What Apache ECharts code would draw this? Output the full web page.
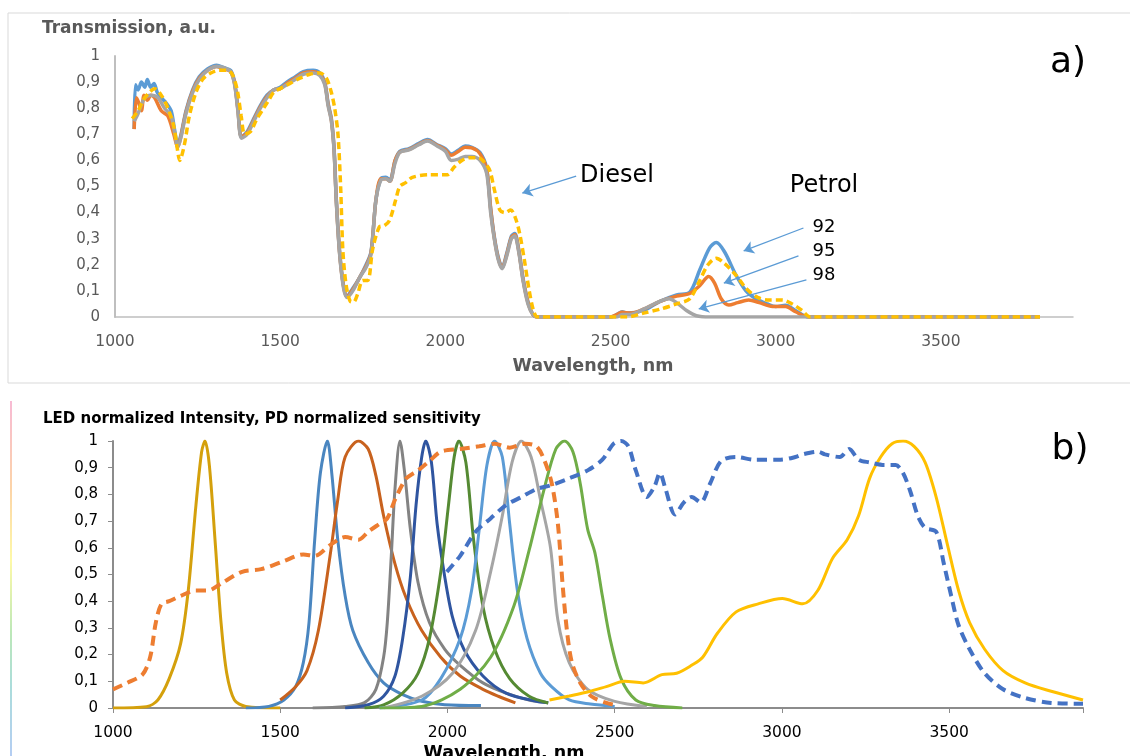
<!DOCTYPE html>
<html>
<head>
<meta charset="utf-8">
<script src="https://cdn.jsdelivr.net/npm/echarts@6/dist/echarts.min.js"></script>
<style>
  html, body { margin: 0; padding: 0; background: #fff; }
  #chart { width: 1130px; height: 756px; }
</style>
</head>
<body>
<div id="chart"></div>
<script>
// panel a) transmission spectra, [wavelength nm, transmission]
const trans92 = [[1058,0.72],[1062,0.89],[1070,0.87],[1080,0.90],[1090,0.88],[1098,0.91],[1108,0.88],[1118,0.895],[1128,0.86],[1140,0.84],[1155,0.82],[1170,0.79],[1180,0.72],[1190,0.66],[1200,0.70],[1215,0.79],[1235,0.87],[1255,0.92],[1280,0.95],[1308,0.965],[1330,0.955],[1350,0.945],[1362,0.9],[1372,0.8],[1383,0.69],[1400,0.71],[1420,0.76],[1440,0.81],[1460,0.85],[1480,0.87],[1500,0.88],[1520,0.9],[1545,0.92],[1570,0.94],[1600,0.945],[1620,0.935],[1635,0.9],[1645,0.82],[1655,0.76],[1663,0.65],[1670,0.45],[1680,0.25],[1692,0.12],[1702,0.08],[1720,0.11],[1740,0.15],[1760,0.2],[1775,0.25],[1790,0.45],[1805,0.53],[1820,0.535],[1832,0.525],[1848,0.6],[1862,0.635],[1890,0.645],[1920,0.665],[1946,0.68],[1975,0.66],[2000,0.645],[2018,0.625],[2040,0.64],[2060,0.655],[2080,0.65],[2105,0.63],[2125,0.57],[2137,0.42],[2148,0.31],[2160,0.23],[2172,0.19],[2185,0.24],[2200,0.31],[2210,0.32],[2222,0.26],[2235,0.15],[2250,0.06],[2265,0.01],[2280,0],[2500,0],[2520,0.01],[2535,0.02],[2550,0.015],[2600,0.025],[2650,0.06],[2700,0.085],[2740,0.095],[2770,0.18],[2800,0.265],[2820,0.285],[2845,0.25],[2880,0.16],[2910,0.1],[2940,0.07],[2975,0.05],[3000,0.04],[3030,0.045],[3060,0.025],[3100,0],[3800,0]];
const trans98 = [[1058,0.72],[1065,0.84],[1072,0.82],[1080,0.79],[1088,0.85],[1098,0.83],[1108,0.85],[1120,0.84],[1140,0.79],[1160,0.77],[1178,0.7],[1190,0.65],[1200,0.695],[1215,0.785],[1235,0.865],[1255,0.915],[1280,0.945],[1308,0.96],[1330,0.95],[1350,0.94],[1362,0.895],[1372,0.795],[1383,0.69],[1400,0.705],[1420,0.755],[1440,0.805],[1460,0.845],[1480,0.87],[1500,0.875],[1520,0.895],[1545,0.915],[1570,0.935],[1600,0.94],[1620,0.93],[1635,0.895],[1645,0.815],[1655,0.755],[1663,0.645],[1670,0.445],[1680,0.245],[1692,0.115],[1702,0.078],[1720,0.105],[1740,0.15],[1760,0.195],[1775,0.245],[1790,0.45],[1805,0.53],[1820,0.53],[1832,0.52],[1848,0.6],[1862,0.632],[1890,0.642],[1920,0.662],[1946,0.676],[1975,0.658],[2000,0.64],[2018,0.62],[2040,0.635],[2060,0.65],[2080,0.648],[2105,0.625],[2125,0.565],[2137,0.415],[2148,0.305],[2160,0.225],[2172,0.188],[2185,0.235],[2200,0.305],[2210,0.315],[2222,0.255],[2235,0.145],[2250,0.055],[2265,0.01],[2280,0],[2500,0],[2520,0.01],[2535,0.018],[2560,0.015],[2600,0.03],[2650,0.06],[2700,0.08],[2740,0.09],[2770,0.12],[2797,0.155],[2815,0.13],[2835,0.07],[2858,0.046],[2885,0.055],[2918,0.065],[2950,0.055],[2990,0.04],[3030,0.04],[3060,0.02],[3100,0],[3800,0]];
const transGray = [[1058,0.75],[1070,0.78],[1090,0.84],[1110,0.85],[1130,0.84],[1150,0.8],[1170,0.77],[1180,0.71],[1190,0.65],[1200,0.69],[1215,0.78],[1235,0.86],[1255,0.91],[1280,0.945],[1308,0.96],[1330,0.955],[1350,0.94],[1362,0.89],[1372,0.79],[1383,0.685],[1400,0.70],[1420,0.75],[1440,0.8],[1460,0.84],[1480,0.87],[1500,0.875],[1520,0.89],[1545,0.91],[1570,0.93],[1600,0.935],[1620,0.925],[1635,0.89],[1645,0.81],[1655,0.75],[1663,0.64],[1670,0.44],[1680,0.24],[1692,0.11],[1702,0.075],[1720,0.1],[1740,0.15],[1760,0.19],[1775,0.24],[1790,0.45],[1805,0.525],[1820,0.53],[1832,0.52],[1848,0.59],[1862,0.63],[1890,0.64],[1920,0.66],[1946,0.674],[1975,0.655],[2000,0.635],[2018,0.6],[2040,0.605],[2060,0.615],[2080,0.615],[2105,0.6],[2125,0.55],[2137,0.4],[2148,0.3],[2160,0.22],[2172,0.185],[2185,0.23],[2200,0.3],[2210,0.31],[2222,0.25],[2235,0.14],[2250,0.05],[2265,0.01],[2280,0],[2520,0],[2535,0.01],[2560,0.01],[2600,0.03],[2640,0.055],[2677,0.07],[2700,0.055],[2730,0.025],[2760,0.005],[2800,0],[3800,0]];
const transDiesel = [[1052,0.76],[1070,0.79],[1085,0.83],[1100,0.855],[1120,0.875],[1140,0.85],[1160,0.80],[1178,0.73],[1188,0.65],[1196,0.60],[1210,0.66],[1225,0.77],[1245,0.86],[1265,0.91],[1290,0.935],[1315,0.945],[1338,0.945],[1355,0.93],[1370,0.87],[1382,0.77],[1393,0.70],[1410,0.71],[1430,0.76],[1450,0.8],[1465,0.83],[1480,0.86],[1500,0.875],[1530,0.895],[1560,0.915],[1590,0.93],[1620,0.935],[1640,0.915],[1655,0.86],[1665,0.8],[1675,0.7],[1683,0.5],[1690,0.25],[1700,0.12],[1712,0.06],[1722,0.057],[1735,0.09],[1750,0.14],[1765,0.14],[1780,0.26],[1800,0.345],[1815,0.35],[1831,0.37],[1850,0.45],[1862,0.5],[1880,0.515],[1900,0.535],[1950,0.545],[2006,0.545],[2027,0.575],[2050,0.6],[2073,0.61],[2100,0.61],[2120,0.59],[2135,0.56],[2148,0.49],[2165,0.41],[2180,0.4],[2198,0.41],[2212,0.38],[2225,0.32],[2239,0.22],[2254,0.1],[2268,0.02],[2280,0],[2550,0],[2600,0.015],[2650,0.03],[2700,0.05],[2740,0.07],[2770,0.14],[2795,0.2],[2820,0.225],[2845,0.205],[2880,0.16],[2910,0.11],[2945,0.075],[2980,0.065],[3020,0.065],[3050,0.05],[3080,0.025],[3105,0],[3800,0]];

// panel b) LED spectra and photodiode sensitivities, [wavelength nm, normalized]
const led1275 = [[1000,0],[1100,0.005],[1134,0.03],[1168,0.11],[1202,0.24],[1225,0.44],[1248,0.76],[1265,0.96],[1275,1],[1288,0.91],[1305,0.63],[1323,0.32],[1340,0.13],[1363,0.03],[1397,0.006],[1500,0]];
const led1650 = [[1397,0],[1466,0.006],[1511,0.03],[1546,0.08],[1569,0.17],[1586,0.32],[1603,0.63],[1620,0.88],[1641,1],[1654,0.88],[1672,0.63],[1694,0.42],[1717,0.29],[1763,0.17],[1809,0.094],[1866,0.05],[1923,0.025],[1992,0.0125],[2100,0.009]];
const led1735 = [[1500,0.03],[1546,0.08],[1580,0.14],[1614,0.29],[1649,0.57],[1672,0.78],[1694,0.94],[1734,1],[1763,0.97],[1786,0.87],[1809,0.72],[1843,0.54],[1877,0.41],[1923,0.29],[1980,0.19],[2038,0.12],[2106,0.07],[2152,0.044],[2203,0.019]];
const led1860 = [[1597,0],[1694,0.006],[1752,0.02],[1786,0.07],[1809,0.19],[1820,0.32],[1832,0.57],[1843,0.82],[1858,1],[1872,0.88],[1889,0.67],[1912,0.47],[1946,0.32],[1992,0.22],[2038,0.16],[2106,0.094],[2175,0.056],[2244,0.03],[2301,0.02]];
const led1935 = [[1694,0],[1763,0.012],[1809,0.044],[1843,0.12],[1866,0.26],[1889,0.49],[1906,0.76],[1923,0.94],[1935,1],[1952,0.92],[1969,0.69],[1992,0.49],[2015,0.34],[2049,0.22],[2106,0.12],[2175,0.056],[2266,0.025],[2301,0.02]];
const led2035 = [[1752,0],[1809,0.012],[1866,0.056],[1912,0.13],[1946,0.26],[1980,0.51],[2003,0.76],[2020,0.94],[2034,1],[2055,0.92],[2078,0.63],[2106,0.38],[2141,0.22],[2186,0.11],[2244,0.044],[2301,0.019]];
const led2140 = [[1797,0],[1923,0.03],[1980,0.11],[2038,0.26],[2072,0.44],[2095,0.67],[2118,0.91],[2141,1],[2164,0.94],[2186,0.69],[2209,0.44],[2238,0.26],[2278,0.13],[2311,0.08],[2364,0.03],[2427,0.015],[2500,0.006]];
const led2220 = [[1809,0],[1923,0.044],[2015,0.13],[2084,0.29],[2129,0.51],[2164,0.72],[2193,0.92],[2221,1],[2250,0.94],[2278,0.78],[2308,0.6],[2330,0.33],[2364,0.17],[2419,0.07],[2500,0.025],[2596,0.006]];
const led2350 = [[1797,0],[1923,0.006],[2038,0.07],[2129,0.19],[2198,0.38],[2244,0.59],[2289,0.82],[2324,0.97],[2350,1],[2375,0.96],[2397,0.84],[2419,0.67],[2441,0.58],[2463,0.42],[2486,0.26],[2519,0.11],[2563,0.03],[2619,0.009],[2702,0]];
const led3360 = [[2305,0.03],[2364,0.045],[2419,0.06],[2475,0.08],[2530,0.1],[2585,0.094],[2641,0.125],[2685,0.13],[2730,0.16],[2763,0.19],[2807,0.28],[2863,0.36],[2929,0.39],[3001,0.41],[3062,0.39],[3107,0.44],[3151,0.56],[3195,0.63],[3229,0.72],[3262,0.86],[3295,0.94],[3329,0.99],[3362,1],[3395,0.98],[3428,0.92],[3461,0.79],[3495,0.61],[3528,0.44],[3561,0.32],[3606,0.22],[3661,0.14],[3727,0.094],[3805,0.0625],[3900,0.03]];
const pdExtended = [[1000,0.07],[1042,0.094],[1088,0.125],[1111,0.19],[1128,0.32],[1145,0.39],[1168,0.40],[1202,0.42],[1248,0.44],[1283,0.44],[1328,0.47],[1386,0.51],[1443,0.52],[1511,0.55],[1569,0.575],[1603,0.57],[1649,0.61],[1694,0.64],[1734,0.63],[1763,0.66],[1797,0.69],[1820,0.71],[1843,0.78],[1877,0.86],[1912,0.89],[1946,0.925],[1980,0.96],[2038,0.97],[2095,0.98],[2141,0.99],[2186,0.975],[2232,0.99],[2266,0.98],[2289,0.93],[2312,0.84],[2330,0.69],[2345,0.45],[2358,0.28],[2372,0.17],[2397,0.094],[2430,0.044],[2475,0.019],[2500,0.012]];
const pdMidIr = [[1998,0.51],[2038,0.57],[2084,0.66],[2129,0.71],[2175,0.76],[2221,0.79],[2266,0.82],[2311,0.835],[2364,0.86],[2419,0.89],[2463,0.93],[2497,0.99],[2519,1.0],[2541,0.98],[2563,0.89],[2596,0.79],[2619,0.83],[2635,0.88],[2652,0.82],[2680,0.725],[2707,0.77],[2730,0.79],[2757,0.77],[2785,0.84],[2818,0.925],[2863,0.94],[2918,0.93],[2996,0.93],[3040,0.94],[3062,0.95],[3107,0.96],[3129,0.95],[3173,0.94],[3201,0.97],[3229,0.93],[3262,0.92],[3306,0.91],[3340,0.91],[3362,0.88],[3384,0.81],[3406,0.72],[3428,0.675],[3461,0.66],[3484,0.54],[3506,0.42],[3528,0.31],[3561,0.22],[3606,0.13],[3661,0.07],[3727,0.0375],[3805,0.019],[3900,0.016]];

// arrows of panel a), [from, to] in data units
const arrowDiesel = [[2396, 0.54], [2233, 0.475]];
const arrow92 = [[3084, 0.341], [2903, 0.253]];
const arrow95 = [[3069, 0.234], [2843, 0.13]];
const arrow98 = [[3093, 0.142], [2767, 0.031]];

const chart = echarts.init(document.getElementById('chart'));

const FONT = '"DejaVu Sans", "Open Sans", sans-serif';
const comma = v => (v === 0 || v === 1) ? String(v) : v.toFixed(1).replace('.', ',');

function xAxisFor(grid, color, lineColor, ticks) {
  return {
    type: 'value', gridIndex: grid, min: 1000, max: 3900, interval: 500,
    splitLine: { show: false },
    axisLine: { show: true, onZero: false, lineStyle: { color: lineColor, width: grid === 0 ? 1.5 : 2 } },
    axisTick: { show: ticks, length: 5, lineStyle: { color: lineColor } },
    axisLabel: {
      color: color, fontSize: 15.5, fontFamily: FONT, margin: 17,
      formatter: v => (v % 500 === 0 ? String(v) : '')
    }
  };
}
function yAxisFor(grid, color, lineColor, ticks) {
  return {
    type: 'value', gridIndex: grid, min: 0, max: 1, interval: 0.1,
    splitLine: { show: false },
    axisLine: { show: true, lineStyle: { color: lineColor, width: 2 } },
    axisTick: { show: ticks, length: 5, lineStyle: { color: lineColor } },
    axisLabel: { color: color, fontSize: 15, fontFamily: FONT, margin: 15, formatter: comma }
  };
}

function line(data, color, opts) {
  opts = opts || {};
  return {
    type: 'line', data: data, xAxisIndex: opts.grid || 0, yAxisIndex: opts.grid || 0,
    smooth: 0.3, showSymbol: false, symbol: 'none',
    lineStyle: { color: color, width: opts.width || 3, type: opts.dash || 'solid', cap: 'butt' },
    z: opts.z || 2,
    markLine: opts.markLine
  };
}

function arrow(a) {
  return [{ coord: a[0], symbol: 'none' }, { coord: a[1], symbol: 'arrow' }];
}

const option = {
  animation: false,
  backgroundColor: '#fff',
  grid: [
    { left: 115, top: 56, width: 958, height: 261 },
    { left: 113, top: 441, width: 970, height: 267 }
  ],
  xAxis: [xAxisFor(0, '#595959', '#bfbfbf', false), xAxisFor(1, '#000', '#8c8c8c', true)],
  yAxis: [yAxisFor(0, '#595959', '#bfbfbf', false), yAxisFor(1, '#000', '#8c8c8c', true)],
  series: [
    line(trans92, '#5B9BD5', { width: 3.5, markLine: {
      silent: true, symbolSize: 10, label: { show: false },
      lineStyle: { color: '#5B9BD5', width: 1.3, type: 'solid' },
      data: [arrow(arrowDiesel), arrow(arrow92), arrow(arrow95), arrow(arrow98)]
    } }),
    line(trans98, '#ED7D31', { width: 3.5 }),
    line(transGray, '#A5A5A5', { width: 3.5 }),
    line(transDiesel, '#FFC000', { width: 3.5, dash: [7, 4], z: 3 }),

    line(led1275, '#D4A00C', { grid: 1 }),
    line(led1650, '#4A86C0', { grid: 1 }),
    line(led1735, '#C8621E', { grid: 1 }),
    line(led1860, '#838383', { grid: 1 }),
    line(led1935, '#2F55A0', { grid: 1 }),
    line(led2035, '#558A33', { grid: 1 }),
    line(led2140, '#5B9BD5', { grid: 1 }),
    line(led2220, '#A5A5A5', { grid: 1 }),
    line(led2350, '#70AD47', { grid: 1 }),
    line(led3360, '#FFC000', { grid: 1 }),
    line(pdExtended, '#ED7D31', { grid: 1, width: 4, dash: [10, 6], z: 3 }),
    line(pdMidIr, '#4472C4', { grid: 1, width: 4, dash: [10, 6], z: 3 })
  ],
  graphic: [
    { type: 'rect', shape: { x: 8, y: 13, width: 1130, height: 370 },
      style: { fill: 'none', stroke: '#d9d9d9', lineWidth: 1 }, silent: true },
    { type: 'line', shape: { x1: 11, y1: 401, x2: 11, y2: 756 }, silent: true,
      style: { lineWidth: 1.5, stroke: new echarts.graphic.LinearGradient(0, 0, 0, 1, [
        { offset: 0, color: '#f5a3c8' }, { offset: 0.25, color: '#fbc58a' },
        { offset: 0.45, color: '#fdf78a' }, { offset: 0.65, color: '#a6e0a0' },
        { offset: 0.8, color: '#8fd1cf' }, { offset: 1, color: '#9cbcf0' }]) } },
    { type: 'text', left: 42, top: 20, style: { text: 'Transmission, a.u.', fill: '#595959', font: 'bold 17px ' + FONT } },
    { type: 'text', x: 593, y: 366, style: { text: 'Wavelength, nm', fill: '#595959', font: 'bold 17.5px ' + FONT, align: 'center', verticalAlign: 'middle' } },
    { type: 'text', x: 1068, y: 63, style: { text: 'a)', fill: '#000', font: '36px ' + FONT, align: 'center', verticalAlign: 'middle' } },
    { type: 'text', x: 617, y: 176, style: { text: 'Diesel', fill: '#000', font: '24px ' + FONT, align: 'center', verticalAlign: 'middle' } },
    { type: 'text', x: 824, y: 186, style: { text: 'Petrol', fill: '#000', font: '24px ' + FONT, align: 'center', verticalAlign: 'middle' } },
    { type: 'text', x: 824, y: 227, style: { text: '92', fill: '#000', font: '18px ' + FONT, align: 'center', verticalAlign: 'middle' } },
    { type: 'text', x: 824, y: 251, style: { text: '95', fill: '#000', font: '18px ' + FONT, align: 'center', verticalAlign: 'middle' } },
    { type: 'text', x: 824, y: 275, style: { text: '98', fill: '#000', font: '18px ' + FONT, align: 'center', verticalAlign: 'middle' } },
    { type: 'text', left: 43, top: 412, style: { text: 'LED normalized Intensity, PD normalized sensitivity', fill: '#000', font: 'bold 15px ' + FONT } },
    { type: 'text', x: 1070, y: 450, style: { text: 'b)', fill: '#000', font: '36px ' + FONT, align: 'center', verticalAlign: 'middle' } },
    { type: 'text', x: 504, y: 753, style: { text: 'Wavelength, nm', fill: '#000', font: 'bold 17.5px ' + FONT, align: 'center', verticalAlign: 'middle' } }
  ]
};

chart.setOption(option);
</script>
</body>
</html>
